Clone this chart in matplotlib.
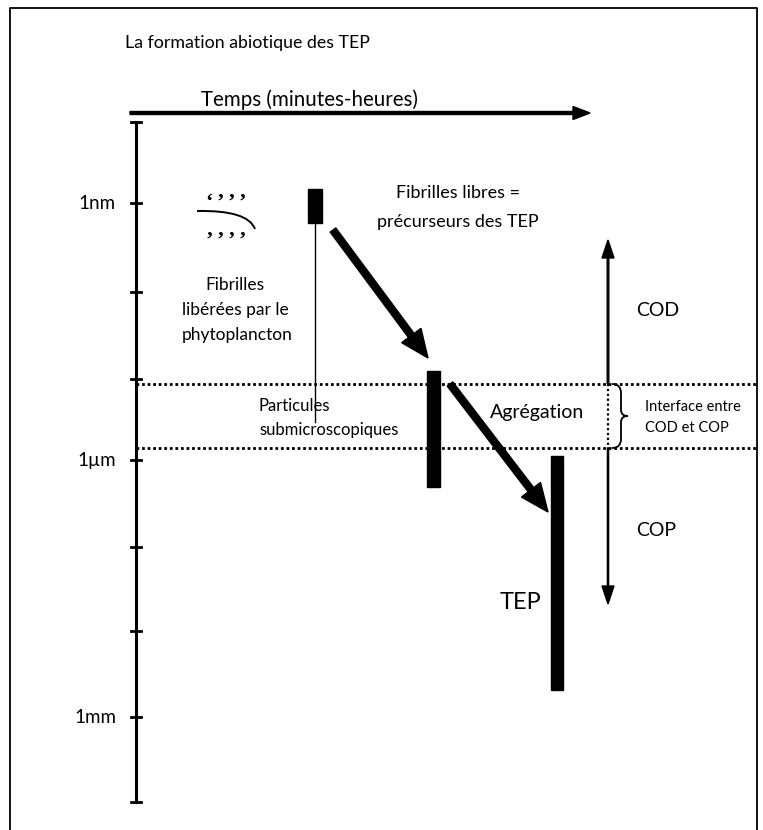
import matplotlib
matplotlib.use("Agg")
import matplotlib.pyplot as plt
from matplotlib.patches import Rectangle, PathPatch
from matplotlib.path import Path

plt.rcParams['font.family'] = ['Lato', 'DejaVu Sans']

# size scale (pixel rows of the ticks on the vertical axis)
scale_top, scale_bottom = 122, 802
scale_ticks = [203, 292, 379, 460, 547, 631, 717]
scale_labels = {203: "1nm", 460: "1\u00b5m", 717: "1mm"}

# interface band between dissolved and particulate carbon
interface_rows = [384, 448]

# black bars: (x left, y top, width, height)
bars = [(308, 189, 14, 34), (427, 371, 13, 116), (551, 456, 12, 234)]

# thick arrows: (start, tip)
growth_arrows = [((333, 230), (428, 358)), ((450, 384), (548, 512))]

# fibril glyphs (two rows of quote marks)
fibril_top = ["\u2018", "\u2019", "\u2019", "\u2019"]
fibril_bottom = ["\u2019", "\u2019", "\u2019", "\u2019"]

texts = [
    ("La formation abiotique des TEP", 125, 43, 12.8, 'left'),
    ("Temps (minutes-heures)", 309, 100, 14.8, 'center'),
    ("Fibrilles libres =", 458, 193, 13, 'center'),
    ("précurseurs des TEP", 458, 222, 13, 'center'),
    ("Fibrilles", 235, 285, 12.5, 'center'),
    ("libérées par le", 235, 310, 12.5, 'center'),
    ("phytoplancton", 237, 335, 12.5, 'center'),
    ("Particules", 259, 406, 12, 'left'),
    ("submicroscopiques", 259, 430, 12, 'left'),
    ("Agrégation", 490, 412, 14, 'left'),
    ("TEP", 500, 602, 17, 'left'),
    ("COD", 636, 310, 14, 'left'),
    ("COP", 636, 530, 14, 'left'),
    ("Interface entre", 645, 407, 10.5, 'left'),
    ("COD et COP", 645, 428, 10.5, 'left'),
]

fig = plt.figure(figsize=(7.63, 8.30), dpi=100)
ax = fig.add_axes([0, 0, 1, 1])
ax.set_xlim(0, 763)
ax.set_ylim(830, 0)
ax.axis('off')

# frame
ax.plot([10, 10, 757, 757], [830, 8, 8, 830], color='black', lw=1.3)

# time arrow
ax.arrow(130, 113, 460, 0, width=3, head_width=13, head_length=17,
         length_includes_head=True, color='black')

# vertical size axis
ax.plot([136, 136], [scale_top, scale_bottom], color='black', lw=2.2)
for y in [scale_top, scale_bottom] + scale_ticks:
    ax.plot([131, 141], [y, y], color='black', lw=2)
for y, lab in scale_labels.items():
    ax.text(116, y, lab, ha='right', va='center', fontsize=13.5)

# dotted interface lines
for y in interface_rows:
    ax.plot([136, 757], [y, y], color='black', lw=2, dashes=(1, 1))

# fibrils glyph
for i, (a, b) in enumerate(zip(fibril_top, fibril_bottom)):
    ax.text(209 + 11 * i, 203, a, ha='center', va='center', fontsize=16,
            family='Liberation Serif', fontweight='bold')
    ax.text(209 + 11 * i, 241, b, ha='center', va='center', fontsize=16,
            family='Liberation Serif', fontweight='bold')
curve = Path([(197, 211), (248, 210), (255, 229)],
             [Path.MOVETO, Path.CURVE3, Path.CURVE3])
ax.add_patch(PathPatch(curve, fill=False, lw=1.4, color='black'))

# thin line from the first bar
ax.plot([315, 315], [223, 422], color='black', lw=1)

for x, y, w, h in bars:
    ax.add_patch(Rectangle((x, y), w, h, color='black'))

for (x0, y0), (x1, y1) in growth_arrows:
    ax.arrow(x0, y0, x1 - x0, y1 - y0, width=7, head_width=24, head_length=28,
             length_includes_head=True, color='black')

# COD / COP double arrow
ax.arrow(608, interface_rows[0], 0, 240 - interface_rows[0], width=1.6,
         head_width=12, head_length=18, length_includes_head=True, color='black')
ax.plot([608, 608], interface_rows, color='black', lw=1.6, dashes=(1, 1.2))
ax.arrow(608, interface_rows[1], 0, 604 - interface_rows[1], width=1.2,
         head_width=12, head_length=18, length_includes_head=True, color='black')

# brace
ym = sum(interface_rows) / 2
brace = Path([(612, 384), (621, 384), (621, 393), (621, ym - 6), (621, ym), (628, ym),
              (621, ym), (621, ym + 6), (621, 439), (621, 448), (612, 448)],
             [Path.MOVETO, Path.CURVE3, Path.CURVE3, Path.LINETO, Path.CURVE3, Path.CURVE3,
              Path.CURVE3, Path.CURVE3, Path.LINETO, Path.CURVE3, Path.CURVE3])
ax.add_patch(PathPatch(brace, fill=False, lw=1.3, color='black'))

for s, x, y, size, ha in texts:
    ax.text(x, y, s, ha=ha, va='center', fontsize=size)

fig.savefig("out.png", dpi=100)
